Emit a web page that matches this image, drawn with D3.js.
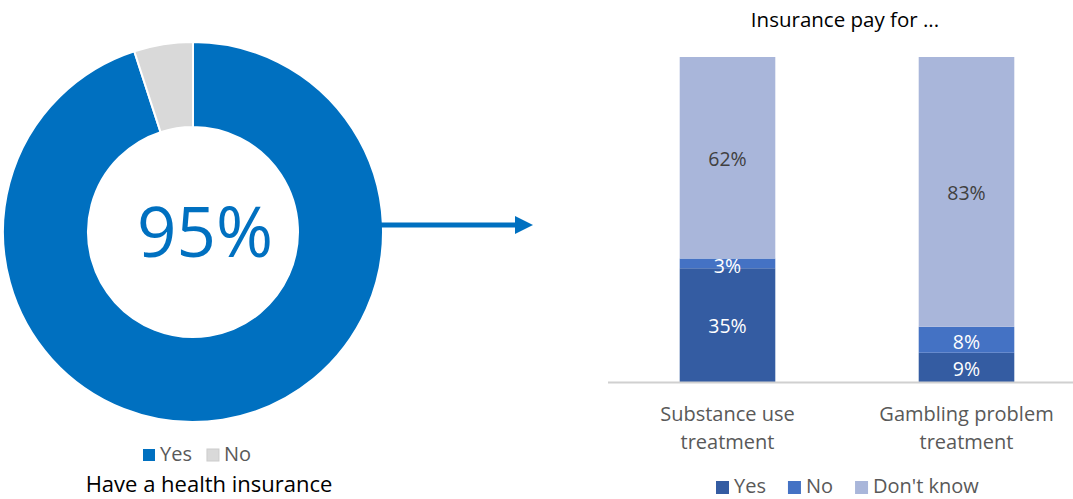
<!DOCTYPE html>
<html><head><meta charset="utf-8">
<script src="https://cdn.jsdelivr.net/npm/d3@7"></script>
<style>body{margin:0;background:#fff;font-family:"Open Sans",sans-serif;}</style>
</head><body><svg id="c" width="1073" height="499"></svg>
<script>
const donutLabels = ["Yes", "No"];
const donutValues = [95, 5];
const donutColors = ["#0070C0", "#D9D9D9"];
const donutCenterText = "95%";
const donutTitle = "Have a health insurance";

const barTitle = "Insurance pay for ...";
const categories = [["Substance use", "treatment"], ["Gambling problem", "treatment"]];
const seriesNames = ["Yes", "No", "Don't know"];
const yesValues = [35, 9];
const noValues = [3, 8];
const dkValues = [62, 83];
const seriesColors = ["#345CA2", "#4472C4", "#A9B6DA"];
const labelColors = ["#fff", "#fff", "#404040"];

const svg = d3.select("#c");

// Donut
const cx = 193, cy = 232, R = 190, r = 105;
const pie = d3.pie().sort(null).value(d => d)(donutValues);
const arc = d3.arc().innerRadius(r).outerRadius(R);
const g = svg.append("g").attr("transform", `translate(${cx},${cy})`);
g.selectAll("path").data(pie).join("path")
  .attr("d", arc).attr("fill", (d, i) => donutColors[i])
  .attr("stroke", "#fff").attr("stroke-width", 2);
g.append("text").attr("x", 12).attr("y", 7).attr("text-anchor", "middle")
  .attr("dominant-baseline", "middle").attr("font-size", 69).attr("fill", "#0070C0")
  .text(donutCenterText);

// left legend
const ll = svg.append("g").attr("transform", "translate(143,455)");
let lx = 0;
donutLabels.forEach((n, i) => {
  ll.append("rect").attr("x", lx).attr("y", -6).attr("width", 12).attr("height", 12)
    .attr("fill", donutColors[i]).attr("stroke", i === 1 ? "#ccc" : "none");
  const t = ll.append("text").attr("x", lx + 17).attr("y", 1).attr("dominant-baseline", "middle")
    .attr("font-size", 20).attr("fill", "#595959").text(n);
  lx += 17 + t.node().getComputedTextLength() + 15;
});
svg.append("text").attr("x", 209).attr("y", 492).attr("text-anchor", "middle")
  .attr("font-size", 22).attr("fill", "#000").text(donutTitle);

// Arrow
svg.append("defs").append("marker").attr("id", "ah").attr("viewBox", "0 0 10 10")
  .attr("refX", 0).attr("refY", 5).attr("markerWidth", 3.6).attr("markerHeight", 3.6)
  .attr("markerUnits", "strokeWidth").attr("orient", "auto")
  .append("path").attr("d", "M0,0 L10,5 L0,10 Z").attr("fill", "#0070C0");
svg.append("line").attr("x1", 380).attr("x2", 515).attr("y1", 225).attr("y2", 225)
  .attr("stroke", "#0070C0").attr("stroke-width", 5).attr("marker-end", "url(#ah)");

// Bars
const data = categories.map((c, i) => ({ key: i, "Yes": yesValues[i], "No": noValues[i], "Don't know": dkValues[i] }));
const stack = d3.stack().keys(seriesNames)(data);
const x = d3.scaleBand().domain(categories.map((c, i) => i)).range([608, 1086]).paddingInner(0.6).paddingOuter(0.3);
const y = d3.scaleLinear().domain([0, 100]).range([382, 57]);

svg.append("text").attr("x", 845).attr("y", 22).attr("text-anchor", "middle")
  .attr("dominant-baseline", "middle").attr("font-size", 20.5).attr("fill", "#000").text(barTitle);

stack.forEach((s, si) => {
  const gg = svg.append("g");
  gg.selectAll("rect").data(s).join("rect")
    .attr("x", d => x(d.data.key)).attr("width", x.bandwidth())
    .attr("y", d => y(d[1])).attr("height", d => y(d[0]) - y(d[1]))
    .attr("fill", seriesColors[si]);
  gg.selectAll("text").data(s).join("text")
    .attr("x", d => x(d.data.key) + x.bandwidth() / 2)
    .attr("y", d => (y(d[0]) + y(d[1])) / 2 + (si === 1 ? 4 : 3))
    .attr("text-anchor", "middle").attr("dominant-baseline", "middle")
    .attr("font-size", 19.5).attr("fill", labelColors[si])
    .text(d => (d[1] - d[0]) + "%");
});

svg.append("line").attr("x1", 608).attr("x2", 1073).attr("y1", 382.5).attr("y2", 382.5)
  .attr("stroke", "#D0D0D0").attr("stroke-width", 2);

categories.forEach((c, i) => {
  const t = svg.append("text").attr("text-anchor", "middle").attr("font-size", 20).attr("fill", "#595959");
  c.forEach((line, j) => t.append("tspan").attr("x", x(i) + x.bandwidth() / 2).attr("y", 421 + j * 28).text(line));
});

// right legend
const rl = svg.append("g").attr("transform", "translate(716,487)");
let rx = 0;
seriesNames.forEach((n, i) => {
  rl.append("rect").attr("x", rx).attr("y", -6).attr("width", 13).attr("height", 13).attr("fill", seriesColors[i]);
  const t = rl.append("text").attr("x", rx + 18).attr("y", 1).attr("dominant-baseline", "middle")
    .attr("font-size", 20).attr("fill", "#595959").text(n);
  rx += 18 + t.node().getComputedTextLength() + 22;
});
</script></body></html>
